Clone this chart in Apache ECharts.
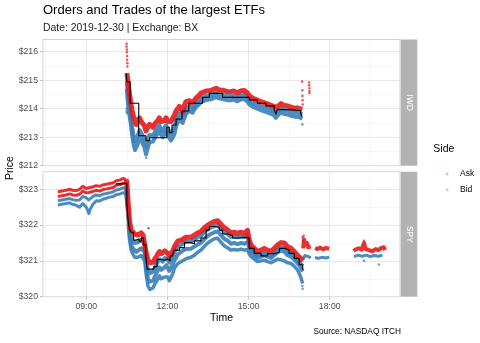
<!DOCTYPE html>
<html><head><meta charset="utf-8">
<script src="https://cdn.jsdelivr.net/npm/echarts@6/dist/echarts.min.js"></script>
<style>html,body{margin:0;padding:0;background:#fff}#c{width:480px;height:343px}</style>
</head><body><div id="c"></div>
<script>
// ---------- axis ticks ----------
const xMajor = [9, 12, 15, 18];
const xMinor = [7.5, 10.5, 13.5, 16.5, 19.5];
const iwdMajor = [212, 213, 214, 215, 216];
const iwdMinor = [212.5, 213.5, 214.5, 215.5];
const spyMajor = [320, 321, 322, 323];
const spyMinor = [320.5, 321.5, 322.5];
const xRange = [7.4, 20.6];
const iwdRange = [212, 216.43];
const spyRange = [320, 323.49];

// ---------- IWD (hours, price) ----------
const iwdTime = [10.50,10.53,10.56,10.60,10.65,10.70,10.75,10.80,10.85,10.90,
 10.97,11.03,11.09,11.15,11.21,11.27,11.34,11.40,11.46,11.52,
 11.58,11.64,11.70,11.76,11.83,11.89,11.95,12.01,12.07,12.13,
 12.20,12.26,12.32,12.38,12.44,12.50,12.56,12.62,12.69,12.75,
 12.81,12.87,12.93,13.00,13.06,13.15,13.24,13.33,13.43,13.50,
 13.61,13.70,13.80,13.86,13.92,13.98,14.05,14.10,14.20,14.35,
 14.45,14.59,14.70,14.84,14.96,15.03,15.09,15.20,15.33,15.45,
 15.58,15.70,15.83,15.95,16.01,16.08,16.20,16.30,16.44,16.55,
 16.69,16.80,16.90,16.99];
const iwdAsk = [215.25,215.05,214.80,214.50,214.20,213.90,213.70,213.55,213.45,213.60,
 213.68,213.55,213.62,213.40,213.22,213.35,213.45,213.38,213.35,213.45,
 213.52,213.58,213.68,213.55,213.48,213.58,213.68,213.55,213.48,213.55,
 213.62,213.78,213.92,214.00,214.08,213.98,213.90,214.10,214.25,214.22,
 214.28,214.20,214.18,214.30,214.38,214.45,214.55,214.58,214.62,214.65,
 214.64,214.68,214.72,214.74,214.66,214.60,214.65,214.63,214.60,214.60,
 214.62,214.56,214.62,214.64,214.55,214.45,214.40,214.35,214.30,214.25,
 214.21,214.17,214.12,214.06,214.00,214.08,214.18,214.12,214.10,214.06,
 214.02,214.03,214.00,213.98];
const iwdBid = [214.95,214.60,214.30,214.05,213.75,213.35,213.05,212.85,212.80,213.05,
 213.25,213.15,213.22,212.95,212.70,212.90,213.08,213.02,213.05,213.15,
 213.25,213.30,213.42,213.30,213.22,213.32,213.42,213.30,213.20,213.12,
 213.10,213.35,213.60,213.72,213.82,213.74,213.68,213.86,214.02,214.02,
 214.08,214.02,214.00,214.12,214.20,214.27,214.37,214.41,214.45,214.48,
 214.47,214.51,214.55,214.56,214.49,214.44,214.48,214.46,214.44,214.44,
 214.46,214.40,214.46,214.48,214.39,214.29,214.24,214.19,214.14,214.09,
 214.05,214.01,213.96,213.90,213.84,213.92,214.02,213.96,213.94,213.90,
 213.86,213.86,213.83,213.80];
const iwdBidDeep = [214.70,214.30,214.00,213.75,213.45,213.05,212.75,212.55,212.50,212.75,
 212.98,212.90,212.92,212.65,212.40,212.62,212.82,212.80,212.85,212.95,
 213.05,213.10,213.20,213.10,213.00,213.10,213.18,213.08,212.98,212.88,
 212.82,213.10,213.38,213.52,213.62,213.56,213.50,213.66,213.82,213.86,
 213.92,213.88,213.86,213.98,214.06,214.13,214.23,214.27,214.31,214.34,
 214.33,214.37,214.41,214.42,214.36,214.30,214.34,214.32,214.30,214.30,
 214.32,214.26,214.32,214.34,214.25,214.15,214.10,214.05,214.00,213.95,
 213.91,213.87,213.82,213.76,213.68,213.76,213.87,213.82,213.80,213.76,
 213.72,213.72,213.69,213.65];
const iwdAskOut = [[10.49,216.28],[10.49,216.18],[10.50,216.08],[10.50,215.98],[10.51,215.85],[10.51,215.72],[10.52,215.60],[10.52,215.48],
 [16.98,214.95],[16.99,214.65],[16.99,214.45],[17.00,214.30],[17.00,214.15],
 [17.24,214.92],[17.24,214.82],[17.25,214.72],[17.25,214.62],[17.25,214.55]];
const iwdBidOut = [[10.49,214.00],[10.49,213.90],[10.50,213.85],[11.22,212.28],[16.99,213.45]];
const iwdTrade = [[10.48,215.24],[10.50,214.95],[10.56,214.95],[10.62,214.19],[10.94,213.05],[11.21,212.88],[11.34,212.98],
 [11.98,213.35],[12.07,213.16],[12.17,213.43],[12.32,213.64],[12.54,213.92],[12.79,214.19],[13.30,214.40],
 [13.55,214.54],[14.04,214.40],[15.03,214.31],[15.33,214.19],[15.64,214.10],[15.95,213.95],[16.02,213.80],
 [16.05,213.97],[16.50,213.93],[16.93,213.85],[16.96,213.75],[16.99,213.75]];

// ---------- SPY pre-market ----------
const spyPreTime = [7.95,8.10,8.25,8.38,8.50,8.63,8.75,8.87,9.00,9.05,9.10,9.15,9.25,9.37,9.50,9.61,9.75,9.86,10.00,10.11,10.25,10.35,10.47];
const spyPreAsk1 = [322.93,322.95,322.97,323.00,322.97,322.96,323.00,323.08,323.02,323.03,323.04,323.05,323.07,323.10,323.08,323.12,323.14,323.16,323.18,323.24,323.26,323.30,323.28];
const spyPreAsk2 = [322.80,322.82,322.84,322.87,322.84,322.83,322.86,322.95,322.90,322.90,322.91,322.92,322.94,322.97,322.95,322.99,323.01,323.03,323.05,323.11,323.13,323.17,323.15];
const spyPreBid1 = [322.68,322.70,322.72,322.74,322.71,322.69,322.70,322.80,322.76,322.72,322.70,322.75,322.80,322.84,322.82,322.86,322.88,322.90,322.93,322.98,323.00,323.04,323.02];
const spyPreBid2 = [322.56,322.58,322.60,322.62,322.58,322.55,322.50,322.60,322.50,322.42,322.32,322.45,322.58,322.68,322.67,322.72,322.75,322.78,322.80,322.85,322.87,322.90,322.89];

// ---------- SPY regular session ----------
const spyTime = [10.47,10.50,10.55,10.60,10.66,10.72,10.79,10.85,10.91,11.03,
 11.10,11.16,11.22,11.28,11.35,11.47,11.53,11.59,11.65,11.71,
 11.77,11.83,11.90,11.96,12.02,12.07,12.14,12.20,12.26,12.32,
 12.38,12.44,12.51,12.60,12.69,12.75,12.87,13.00,13.12,13.24,
 13.36,13.49,13.61,13.74,13.86,13.98,14.10,14.23,14.35,14.47,
 14.59,14.72,14.84,14.96,15.02,15.09,15.21,15.33,15.46,15.58,
 15.70,15.83,15.95,16.08,16.20,16.32,16.44,16.57,16.69,16.81,
 16.93,17.00];
const spyAsk = [323.28,323.20,322.60,322.10,321.86,321.82,321.75,321.70,321.72,321.78,
 321.72,321.68,321.21,321.03,320.95,320.96,321.05,321.12,321.20,321.26,
 321.20,321.18,321.28,321.30,321.20,321.12,321.22,321.28,321.40,321.45,
 321.55,321.58,321.58,321.62,321.66,321.68,321.66,321.72,321.78,321.82,
 321.92,322.00,322.05,322.10,322.12,322.02,321.93,321.86,321.78,321.80,
 321.77,321.80,321.77,321.85,321.60,321.44,321.35,321.26,321.30,321.35,
 321.30,321.26,321.35,321.45,321.51,321.50,321.40,321.35,321.26,321.16,
 321.07,321.00];
const spyBid1 = [323.02,322.98,322.40,321.90,321.62,321.58,321.50,321.48,321.52,321.58,
 321.52,321.46,320.98,320.75,320.66,320.70,320.80,320.90,320.98,321.05,
 321.00,320.98,321.08,321.10,321.02,320.95,321.05,321.12,321.25,321.30,
 321.40,321.43,321.45,321.50,321.54,321.56,321.54,321.60,321.66,321.70,
 321.80,321.88,321.93,321.97,322.00,321.90,321.81,321.75,321.67,321.68,
 321.66,321.68,321.66,321.72,321.48,321.32,321.23,321.14,321.18,321.22,
 321.18,321.14,321.22,321.32,321.38,321.37,321.28,321.22,321.13,321.02,
 320.92,320.85];
const spyBid2 = [322.89,322.85,322.30,321.75,321.45,321.35,321.30,321.25,321.30,321.35,
 321.30,321.25,320.80,320.50,320.42,320.45,320.55,320.65,320.75,320.82,
 320.75,320.72,320.82,320.88,320.80,320.72,320.82,320.90,321.02,321.08,
 321.18,321.22,321.25,321.30,321.33,321.36,321.34,321.40,321.46,321.50,
 321.60,321.70,321.75,321.80,321.82,321.72,321.62,321.56,321.48,321.50,
 321.47,321.50,321.48,321.52,321.38,321.25,321.16,321.08,321.12,321.16,
 321.12,321.08,321.16,321.24,321.28,321.26,321.16,321.12,321.04,320.94,
 320.82,320.70];
const spyBid3 = ['-','-',322.05,321.60,321.30,321.20,321.10,321.05,321.10,321.15,
 321.10,321.00,320.60,320.30,320.20,320.25,320.35,320.42,320.50,320.58,
 320.50,320.45,320.55,320.60,320.55,320.45,320.55,320.65,320.80,320.85,
 320.92,320.95,320.98,321.02,321.06,321.10,321.10,321.16,321.24,321.30,
 321.40,321.50,321.56,321.62,321.63,321.52,321.42,321.36,321.30,321.32,
 321.30,321.33,321.30,321.32,321.20,321.12,321.05,320.98,321.00,321.02,
 320.98,320.95,321.00,321.05,321.03,321.00,320.95,320.93,320.85,320.75,
 320.55,320.37];
const spyAskPost = [[17.02,321.35],[17.05,321.60],[17.08,321.45],[17.12,321.42],[17.16,321.50],[17.20,321.38],[17.25,321.42],[17.30,321.40],[17.38,'-'],
 [17.46,321.36],[17.55,321.33],[17.65,321.37],[17.75,321.32],[17.85,321.36],[17.98,321.34],[18.30,'-'],
 [18.88,321.28],[18.98,321.33],[19.08,321.35],[19.18,321.31],[19.27,321.50],[19.33,321.33],[19.45,321.30],[19.58,321.27],[19.70,321.33],[19.80,321.30],[19.90,321.36],[20.00,321.38],[20.05,321.30]];
const spyBidPost = [[17.02,321.05],[17.08,321.15],[17.15,321.10],[17.22,321.12],[17.30,321.08],[17.38,'-'],
 [17.46,321.10],[17.58,321.07],[17.70,321.10],[17.85,321.08],[17.98,321.10],[18.30,'-'],
 [18.90,321.12],[19.05,321.16],[19.20,321.13],[19.35,321.16],[19.50,321.12],[19.65,321.15],[19.80,321.13],[19.95,321.16]];
const spyAskOut = [[11.30,321.91],[17.00,321.66],[17.02,321.55],[17.04,321.70],[19.27,321.56]];
const spyBidOut = [[16.99,320.30],[17.00,320.22],[19.27,321.00],[19.82,320.90]];
const spyTrade = [[10.10,323.15],[10.30,323.17],[10.50,322.60],[10.55,322.10],[10.60,321.88],[10.66,321.80],[10.75,321.58],
 [10.85,321.62],[10.95,321.55],[11.03,321.64],[11.12,321.44],[11.20,321.12],[11.25,320.77],[11.50,320.84],
 [11.62,321.04],[11.75,321.02],[11.90,321.05],[12.00,321.00],[12.10,321.14],[12.20,321.20],[12.26,321.30],
 [12.45,321.37],[12.63,321.51],[12.87,321.48],[13.00,321.56],[13.24,321.64],[13.43,321.86],[13.55,321.96],
 [13.74,321.94],[13.92,321.86],[14.04,321.75],[14.23,321.70],[14.41,321.64],[14.66,321.66],[14.84,321.64],
 [15.02,321.35],[15.21,321.21],[15.46,321.14],[15.70,321.20],[15.95,321.24],[16.14,321.35],[16.32,321.30],
 [16.50,321.21],[16.69,321.07],[16.87,320.89],[17.00,320.75]];

// ---------- build ----------
const FONT = 'Liberation Sans';
const ASK = 'rgba(228,26,28,0.9)';
const BID = 'rgba(55,126,184,0.9)';
const zip = (t, v) => t.map((x, i) => [x, v[i]]);

function band(name, data, gi, color, width) {
  return {type:'line', name, data, xAxisIndex:gi, yAxisIndex:gi, symbol:'none', silent:true,
    connectNulls:false, animation:false, z:2,
    lineStyle:{color, width, join:'round', cap:'butt'}, itemStyle:{color}};
}
function pts(name, data, gi, color) {
  return {type:'scatter', name, data, xAxisIndex:gi, yAxisIndex:gi, symbolSize:2.6, silent:true,
    animation:false, z:3, itemStyle:{color}};
}
function trade(data, gi) {
  return {type:'line', name:'Trade', data, xAxisIndex:gi, yAxisIndex:gi, step:'end', symbol:'none',
    silent:true, animation:false, z:4, lineStyle:{color:'#000', width:1.1}};
}
function xAx(gi, vals, major, labels) {
  return {type:'value', gridIndex:gi, min:xRange[0], max:xRange[1], axisLine:{show:false},
    axisTick:{show:labels, customValues:vals, length:3, lineStyle:{color:'#B3B3B3', width:0.8}},
    axisLabel:{show:labels, customValues:vals, margin:5, fontSize:8.7, color:'#4D4D4D', fontFamily:FONT,
      formatter: v => String(v).padStart(2,'0') + ':00'},
    splitLine:{show:true, lineStyle:{color: major ? '#E2E2E2' : '#EFEFEF', width: major ? 0.8 : 0.5}}};
}
function yAx(gi, range, vals, major) {
  return {type:'value', gridIndex:gi, min:range[0], max:range[1], position:'left', axisLine:{show:false},
    axisTick:{show:major, customValues:vals, length:3, lineStyle:{color:'#B3B3B3', width:0.8}},
    axisLabel:{show:major, customValues:vals, margin:5, fontSize:8.7, color:'#4D4D4D', fontFamily:FONT,
      formatter: v => '$' + v},
    splitLine:{show:true, lineStyle:{color: major ? '#E2E2E2' : '#EFEFEF', width: major ? 0.8 : 0.5}}};
}

const series = [
  band('Bid', zip(iwdTime, iwdBidDeep), 0, BID, 4),
  band('Bid', zip(iwdTime, iwdBid), 0, BID, 4),
  pts('Bid', iwdBidOut, 0, BID),
  band('Ask', zip(iwdTime, iwdAsk), 0, ASK, 5),
  pts('Ask', iwdAskOut, 0, ASK),
  trade(iwdTrade, 0),
  band('Bid', zip(spyPreTime, spyPreBid2), 1, BID, 3),
  band('Bid', zip(spyPreTime, spyPreBid1), 1, BID, 3),
  band('Bid', zip(spyTime, spyBid3), 1, BID, 3.5),
  band('Bid', zip(spyTime, spyBid2), 1, BID, 4),
  band('Bid', zip(spyTime, spyBid1), 1, BID, 4),
  band('Bid', spyBidPost, 1, BID, 3),
  pts('Bid', spyBidOut, 1, BID),
  band('Ask', zip(spyPreTime, spyPreAsk2), 1, ASK, 3),
  band('Ask', zip(spyPreTime, spyPreAsk1), 1, ASK, 3),
  band('Ask', zip(spyTime, spyAsk), 1, ASK, 5),
  band('Ask', spyAskPost, 1, ASK, 4),
  pts('Ask', spyAskOut, 1, ASK),
  trade(spyTrade, 1)
];

const chart = echarts.init(document.getElementById('c'), null, {renderer:'canvas'});
chart.setOption({
  animation:false,
  textStyle:{fontFamily:FONT},
  title:{text:'Orders and Trades of the largest ETFs', subtext:'Date: 2019-12-30 | Exchange: BX',
    left:43, top:2, padding:0, itemGap:3.2,
    textStyle:{fontSize:13, fontWeight:'normal', color:'#000', fontFamily:FONT, lineHeight:16},
    subtextStyle:{fontSize:10.4, color:'#1A1A1A', fontFamily:FONT, lineHeight:13}},
  legend:{orient:'vertical', left:440.5, top:164, itemWidth:3, itemHeight:3, itemGap:5.7, selectedMode:false,
    textStyle:{fontSize:8.5, color:'#000', fontFamily:FONT, lineHeight:10, padding:[0,0,0,6.5]},
    data:[{name:'Ask', icon:'circle', itemStyle:{color:'rgba(228,26,28,0.3)'}},
          {name:'Bid', icon:'circle', itemStyle:{color:'rgba(55,126,184,0.3)'}}]},
  grid:[
    {left:43, top:39.5, width:357, height:126.2, show:true, borderColor:'#C8C8C8', borderWidth:0.8, backgroundColor:'transparent'},
    {left:43, top:171.7, width:357, height:125, show:true, borderColor:'#C8C8C8', borderWidth:0.8, backgroundColor:'transparent'}
  ],
  xAxis:[xAx(0, xMajor, true, false), xAx(1, xMajor, true, true), xAx(0, xMinor, false, false), xAx(1, xMinor, false, false)],
  yAxis:[yAx(0, iwdRange, iwdMajor, true), yAx(1, spyRange, spyMajor, true), yAx(0, iwdRange, iwdMinor, false), yAx(1, spyRange, spyMinor, false)],
  series,
  graphic:[
    {type:'rect', shape:{x:400.7, y:39.5, width:16.6, height:126.2}, style:{fill:'#B3B3B3'}, silent:true},
    {type:'rect', shape:{x:400.7, y:171.7, width:16.6, height:125}, style:{fill:'#B3B3B3'}, silent:true},
    {type:'text', x:409, y:102.6, rotation:-Math.PI/2, silent:true,
      style:{text:'IWD', fill:'#FFFFFF', font:'8.5px "Liberation Sans"', align:'center', verticalAlign:'middle'}},
    {type:'text', x:409, y:234.2, rotation:-Math.PI/2, silent:true,
      style:{text:'SPY', fill:'#FFFFFF', font:'8.5px "Liberation Sans"', align:'center', verticalAlign:'middle'}},
    {type:'text', x:10, y:168, rotation:Math.PI/2, silent:true,
      style:{text:'Price', fill:'#000', font:'10.5px "Liberation Sans"', align:'center', verticalAlign:'middle'}},
    {type:'text', x:221.5, y:318, silent:true,
      style:{text:'Time', fill:'#000', font:'10.5px "Liberation Sans"', align:'center', verticalAlign:'middle'}},
    {type:'text', x:433.3, y:149, silent:true,
      style:{text:'Side', fill:'#000', font:'10.5px "Liberation Sans"', align:'left', verticalAlign:'middle'}},
    {type:'text', x:401, y:332, silent:true,
      style:{text:'Source: NASDAQ ITCH', fill:'#000', font:'8.3px "Liberation Sans"', align:'right', verticalAlign:'middle'}}
  ]
});
</script>
</body></html>
